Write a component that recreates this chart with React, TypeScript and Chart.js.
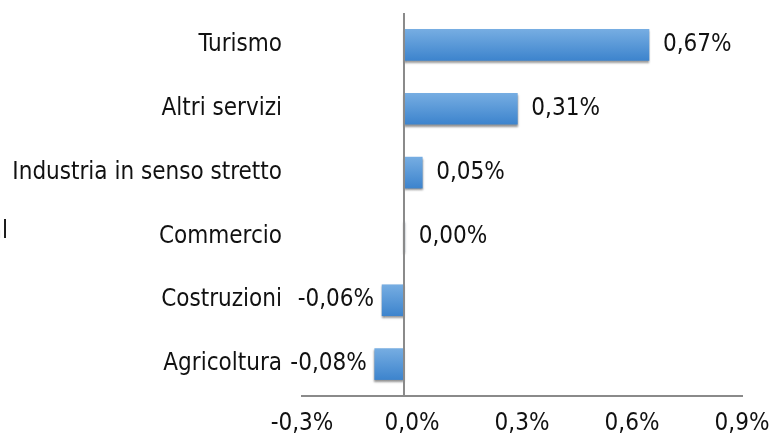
import React, { useEffect, useRef } from "react";
import { Chart, registerables } from "chart.js";

Chart.register(...registerables);

const categories = [
  "Turismo",
  "Altri servizi",
  "Industria in senso stretto",
  "Commercio",
  "Costruzioni",
  "Agricoltura",
];
const values = [0.67, 0.31, 0.05, 0.002, -0.06, -0.08];
const tickValues = [-0.3, 0.0, 0.3, 0.6, 0.9];
const clippedText = "al";

const FONT = "'DejaVu Sans Condensed', 'DejaVu Sans', Verdana, sans-serif";
const FONT_SIZE = 24;
const AXIS_GREY = "#8a8a8a";

const fmt = (v: number, d: number) => v.toFixed(d).replace(".", ",") + "%";

export default function App() {
  const ref = useRef<HTMLCanvasElement>(null);

  useEffect(() => {
    if (!ref.current) return;

    const zeroLine = {
      id: "zeroLine",
      afterDatasetsDraw(chart: any) {
        const { ctx, chartArea, scales } = chart;
        const x = scales.x2.getPixelForValue(0);
        ctx.save();
        ctx.strokeStyle = AXIS_GREY;
        ctx.lineWidth = 2;
        ctx.beginPath();
        ctx.moveTo(x, chartArea.top);
        ctx.lineTo(x, chartArea.bottom + 1);
        ctx.stroke();
        ctx.restore();
      },
    };

    const shadow = {
      id: "barShadow",
      beforeDatasetsDraw(chart: any) {
        const c = chart.ctx;
        c.save();
        c.shadowColor = "rgba(60,60,60,0.55)";
        c.shadowOffsetX = 0;
        c.shadowOffsetY = 2;
        c.shadowBlur = 2;
      },
      afterDatasetsDraw(chart: any) {
        chart.ctx.restore();
      },
    };

    const dataLabels = {
      id: "dataLabels",
      afterDatasetsDraw(chart: any) {
        const { ctx } = chart;
        const meta = chart.getDatasetMeta(0);
        ctx.save();
        ctx.font = `${FONT_SIZE}px ${FONT}`;
        ctx.fillStyle = "#111";
        ctx.textBaseline = "middle";
        meta.data.forEach((el: any, i: number) => {
          const v = values[i];
          if (v < 0) {
            ctx.textAlign = "right";
            ctx.fillText(fmt(v, 2), el.x - 8, el.y);
          } else {
            ctx.textAlign = "left";
            ctx.fillText(fmt(v, 2), el.x + 14, el.y);
          }
        });
        // partially clipped text fragment at left edge
        ctx.textAlign = "right";
        ctx.textBaseline = "alphabetic";
        ctx.fillText(clippedText, 8, 238);
        ctx.restore();
      },
    };

    const chart = new Chart(ref.current, {
      type: "bar",
      data: {
        labels: categories,
        datasets: [
          {
            data: values,
            xAxisID: "x2",
            yAxisID: "y",
            barThickness: 31,
            borderWidth: 0,
            backgroundColor: (ctx: any) => {
              const ch = ctx.chart;
              const ys = ch.scales?.y;
              if (!ys || ctx.dataIndex == null) return "#5595d6";
              const yc = ys.getPixelForValue(ctx.dataIndex);
              if (!Number.isFinite(yc)) return "#5595d6";
              const g = ch.ctx.createLinearGradient(0, yc - 15.5, 0, yc + 15.5);
              g.addColorStop(0, "#76ade2");
              g.addColorStop(1, "#3d84cd");
              return g;
            },
          },
        ],
      },
      options: {
        indexAxis: "y",
        responsive: false,
        animation: false,
        layout: { padding: { top: 13, right: 31, bottom: 0, left: 0 } },
        plugins: {
          legend: { display: false },
          tooltip: { enabled: false },
        },
        scales: {
          x: {
            type: "linear",
            position: "bottom",
            min: tickValues[0],
            max: tickValues[tickValues.length - 1],
            afterBuildTicks: (scale: any) => {
              scale.ticks = tickValues.map((v) => ({ value: v }));
            },
            afterFit: (scale: any) => {
              scale.height = 40;
              scale.paddingLeft = 0;
              scale.paddingRight = 0;
            },
            grid: { display: false, drawTicks: false },
            border: { display: true, color: AXIS_GREY, width: 2 },
            ticks: {
              padding: 13,
              color: "#111",
              font: { family: FONT, size: FONT_SIZE },
              callback: (v: any) => fmt(Number(v), 1),
            },
          },
          x2: {
            type: "linear",
            display: false,
            min: -0.2789,
            max: 0.9243,
          },
          y: {
            type: "category",
            position: "left",
            afterFit: (scale: any) => {
              scale.width = 302;
              scale.paddingTop = 0;
              scale.paddingBottom = 0;
            },
            grid: { display: false, drawTicks: false },
            border: { display: false },
            ticks: {
              padding: 20,
              color: "#111",
              font: { family: FONT, size: FONT_SIZE },
            },
          },
        },
      },
      plugins: [shadow, zeroLine, dataLabels],
    } as any);

    return () => chart.destroy();
  }, []);

  return (
    <div style={{ position: "fixed", left: 0, top: 0, width: 773, height: 436, background: "#fff" }}>
      <canvas ref={ref} width={773} height={436} style={{ width: 773, height: 436, display: "block" }} />
    </div>
  );
}
